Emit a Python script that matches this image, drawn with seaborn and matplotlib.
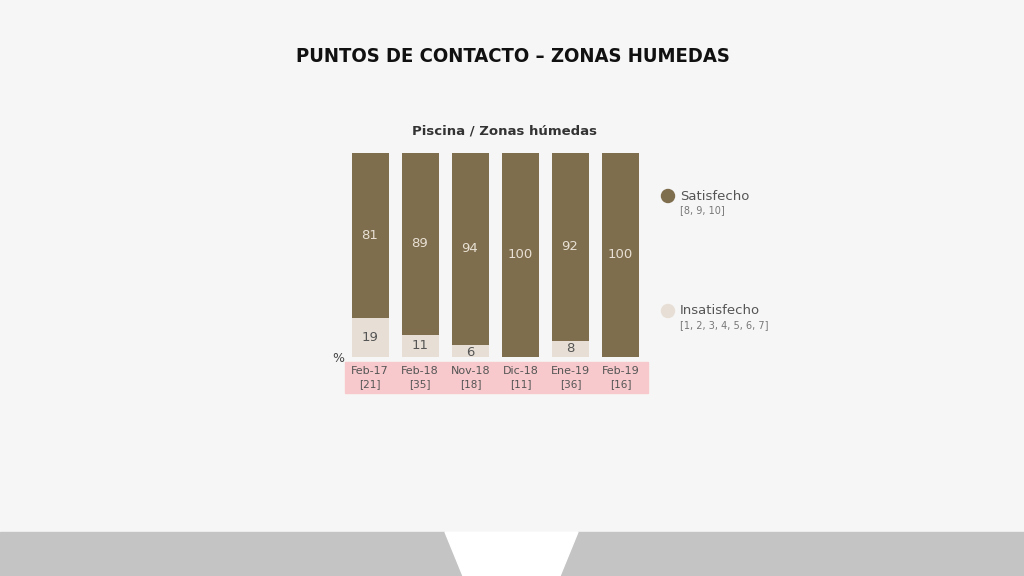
import matplotlib
matplotlib.use("Agg")
import matplotlib.pyplot as plt
import seaborn as sns
import pandas as pd
from matplotlib.patches import Rectangle, Ellipse, Polygon

periods = ["Feb-17", "Feb-18", "Nov-18", "Dic-18", "Ene-19", "Feb-19"]
bases = ["[21]", "[35]", "[18]", "[11]", "[36]", "[16]"]
satisfecho = [81, 89, 94, 100, 92, 100]
insatisfecho = [19, 11, 6, 0, 8, 0]

c_sat = "#7f6e4d"
c_ins = "#e7dfd5"

W, H = 1024, 576
fig = plt.figure(figsize=(W/100, H/100), dpi=100)
fig.patch.set_facecolor("#f6f6f6")
fig.add_artist(Rectangle((0, 0), 1, 44/H, transform=fig.transFigure, color="#c4c4c4", zorder=0))
fig.add_artist(Polygon([(445/W, 44/H), (578/W, 44/H), (560/W, 0), (463/W, 0)], closed=True,
                       transform=fig.transFigure, color="#ffffff", zorder=0))
fig.add_artist(Rectangle((345/W, (H-393)/H), 303/W, 31/H, transform=fig.transFigure,
                         color="#f7c9cc", zorder=0))

ax = fig.add_axes([345/W, (H-357)/H, 303/W, 204/H])
ax.set_facecolor("none")
df = pd.DataFrame({"p": periods, "sat": satisfecho, "ins": insatisfecho,
                   "tot": [s+i for s, i in zip(satisfecho, insatisfecho)]})
sns.barplot(data=df, x="p", y="tot", color=c_sat, width=0.74, ax=ax, saturation=1)
sns.barplot(data=df, x="p", y="ins", color=c_ins, width=0.74, ax=ax, saturation=1)
for i, (s, n) in enumerate(zip(satisfecho, insatisfecho)):
    ax.text(i, n + s/2, str(s), ha="center", va="center", color="#e8e0d4", fontsize=9.5)
    if n > 0:
        ax.text(i, n/2 if n > 7 else n/2 - 1, str(n), ha="center", va="center", color="#555555", fontsize=9.5)
ax.set_xlim(-0.5, 5.56)
ax.set_ylim(0, 100)
ax.axis("off")

for i, (p, b) in enumerate(zip(periods, bases)):
    x = (370 + 50.2*i)/W
    fig.text(x, 1-371/H, p, ha="center", va="center", fontsize=8, color="#555555")
    fig.text(x, 1-384/H, b, ha="center", va="center", fontsize=7.5, color="#555555")
fig.text(338/W, 1-359/H, "%", ha="center", va="center", fontsize=9, color="#444444")

fig.text(513/W, 1-57/H, "PUNTOS DE CONTACTO – ZONAS HUMEDAS", ha="center", va="center",
         fontsize=14.5, fontweight="bold", color="#111111", fontstretch="condensed")
fig.text(504/W, 1-131/H, "Piscina / Zonas húmedas", ha="center", va="center",
         fontsize=9.5, fontweight="bold", color="#333333")

for y, lab, sub, col in [(196, "Satisfecho", "[8, 9, 10]", c_sat),
                          (311, "Insatisfecho", "[1, 2, 3, 4, 5, 6, 7]", c_ins)]:
    fig.add_artist(Ellipse((668/W, 1-y/H), 13/W, 13/H, transform=fig.transFigure, color=col))
    fig.text(680/W, 1-y/H, lab, ha="left", va="center", fontsize=9.5, color="#555555")
    fig.text(680/W, 1-(y+14)/H, sub, ha="left", va="center", fontsize=7, color="#777777")

fig.savefig("out.png", dpi=100, facecolor=fig.get_facecolor())
